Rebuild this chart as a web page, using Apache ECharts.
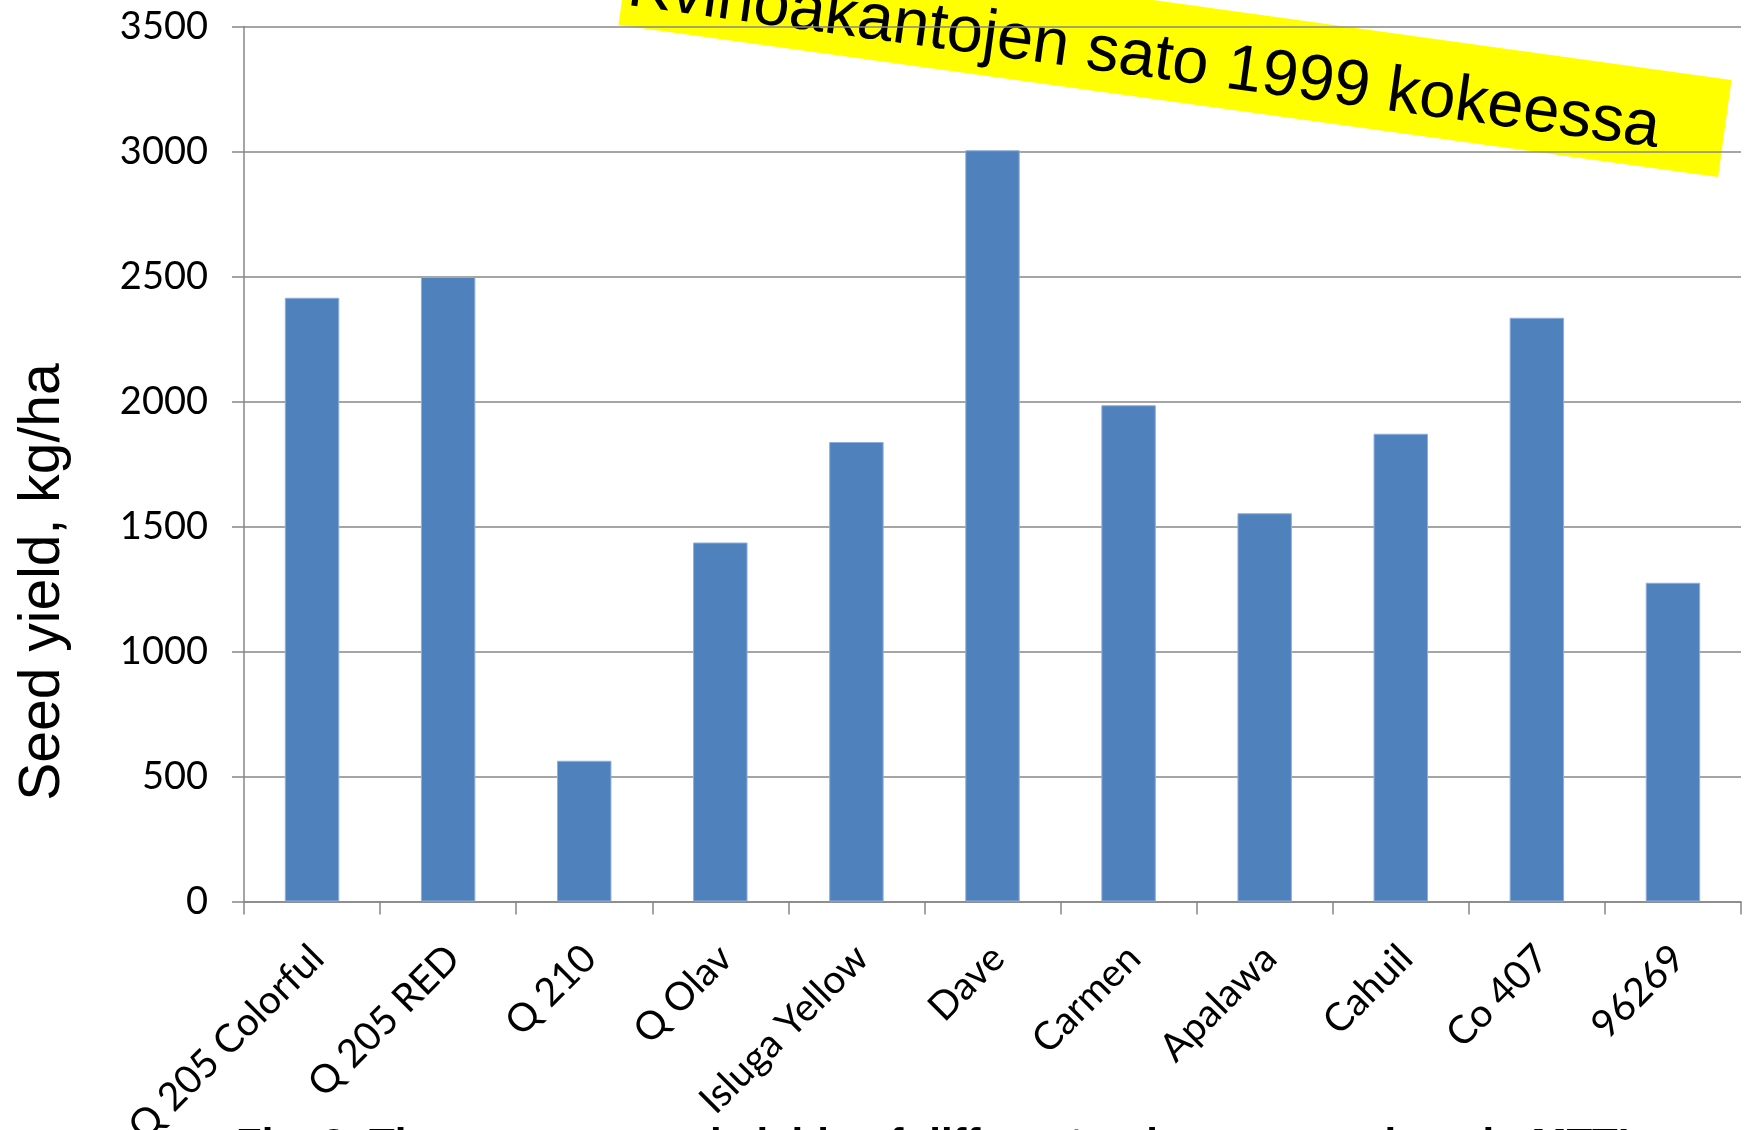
<!DOCTYPE html>
<html>
<head>
<meta charset="utf-8">
<script src="https://cdn.jsdelivr.net/npm/echarts@6/dist/echarts.min.js"></script>
<style>
html,body{margin:0;padding:0;background:#fff;}
#chart{width:1752px;height:1130px;}
</style>
</head>
<body>
<div id="chart"></div>
<script>
const categories = ['Q 205 Colorful','Q 205 RED','Q 210','Q Olav','Isluga Yellow','Dave','Carmen','Apalawa','Cahuil','Co 407','96269'];
const seedYield = [2415, 2498, 563, 1436, 1838, 3005, 1985, 1553, 1871, 2335, 1275];
const yTicks = {min: 0, max: 3500, interval: 500};
const yAxisTitle = 'Seed yield, kg/ha';
const bannerText = 'Kvinoakantojen sato 1999 kokeessa';
const captionText = 'Fig. 3. The average seed yields of different quinoa accessions in MTT\u2019s';

const chart = echarts.init(document.getElementById('chart'), null, {renderer: 'canvas'});
const gray = '#878787';
chart.setOption({
  animation: false,
  backgroundColor: '#ffffff',
  grid: {left: 244, right: 11, top: 26.5, bottom: 228.5, containLabel: false, outerBoundsMode: 'none'},
  xAxis: {
    type: 'category',
    data: categories,
    boundaryGap: true,
    axisLine: {show: true, lineStyle: {color: gray, width: 1.5}},
    axisTick: {show: true, length: 13, interval: 0, lineStyle: {color: gray, width: 1.5}},
    axisLabel: {
      interval: 0, rotate: 45, margin: 45, verticalAlign: 'top', lineHeight: 15,
      fontFamily: 'Lato', fontSize: 39, color: '#000'
    },
    splitLine: {show: false}
  },
  yAxis: {
    type: 'value',
    min: yTicks.min, max: yTicks.max, interval: yTicks.interval,
    axisLine: {show: true, lineStyle: {color: gray, width: 1.5}},
    axisTick: {show: true, length: 12, lineStyle: {color: gray, width: 1.5}},
    axisLabel: {margin: 36, fontFamily: 'Lato', fontSize: 38, color: '#000', formatter: function (v) { return String(v); }},
    splitLine: {show: true, lineStyle: {color: gray, width: 1.5}}
  },
  series: [{
    type: 'bar',
    data: seedYield,
    barWidth: '40%',
    itemStyle: {color: '#4F81BD', borderColor: '#8FAEDA', borderWidth: 1}
  }],
  graphic: [
    {
      type: 'text', x: 43, y: 582, rotation: Math.PI / 2, z: 50,
      style: {text: yAxisTitle, font: '57px "Liberation Sans"', fill: '#000', align: 'center', verticalAlign: 'middle'}
    },
    {
      type: 'group',
      x: 1175, y: 52.5,
      rotation: -0.1373,
      z: 100,
      children: [
        {type: 'rect', shape: {x: -555, y: -49, width: 1110, height: 98}, style: {fill: '#FFFF00'}},
        {type: 'text', x: -30, y: 10, style: {text: bannerText, font: '65px "Liberation Sans"', fill: '#000', align: 'center', verticalAlign: 'middle'}}
      ]
    },
    {
      type: 'text', x: 236, y: 1125, z: 100,
      style: {text: captionText, font: 'bold 42px "Liberation Sans"', fill: '#000', align: 'left', verticalAlign: 'top'}
    }
  ]
});
</script>
</body>
</html>
